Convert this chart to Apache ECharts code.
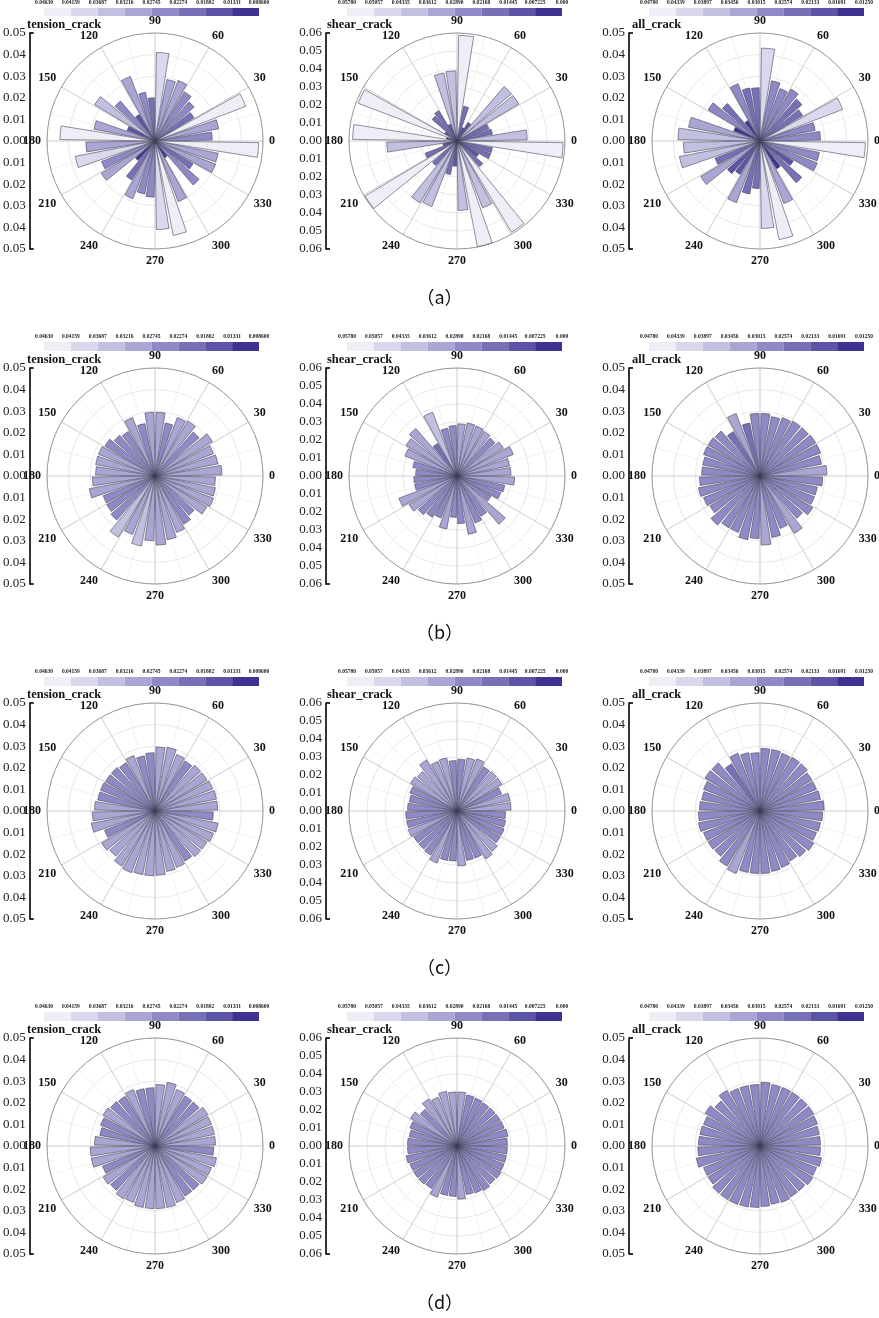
<!DOCTYPE html>
<html>
<head>
<meta charset="utf-8">
<script src="https://cdn.jsdelivr.net/npm/echarts@6/dist/echarts.min.js"></script>
<style>
  html, body { margin: 0; padding: 0; background: #fff; }
  #main { width: 879px; height: 1318px; }
</style>
</head>
<body>
<div id="main"></div>
<script>
// 36 orientation bins of 10 degrees, counter-clockwise from east
var sectors = ['0-10','10-20','20-30','30-40','40-50','50-60','60-70','70-80','80-90',
  '90-100','100-110','110-120','120-130','130-140','140-150','150-160','160-170','170-180',
  '180-190','190-200','200-210','210-220','220-230','230-240','240-250','250-260','260-270',
  '270-280','280-290','290-300','300-310','310-320','320-330','330-340','340-350','350-360'];

// colour legend levels (lightest -> darkest)
var tensionLevels = ['0.04630','0.04159','0.03687','0.03216','0.02745','0.02274','0.01802','0.01331','0.008600'];
var shearLevels = ['0.05780','0.05057','0.04335','0.03612','0.02890','0.02168','0.01445','0.007225','0.000'];
var allLevels = ['0.04780','0.04339','0.03897','0.03456','0.03015','0.02574','0.02133','0.01691','0.01250'];

var palette = ['#efeef7','#d9d8ec','#c2c0e0','#a9a6d3','#8f8ac5','#7670b6','#5c54a5','#3e3393'];

// (a)
var tension_a = [0.0265,0.030,0.045,0.021,0.024,0.0265,0.030,0.029,0.041,0.020,0.023,0.032,0.0143,0.0245,0.0326,0.0138,0.0288,0.044,
  0.032,0.0376,0.0265,0.029,0.012,0.021,0.0286,0.025,0.026,0.041,0.0445,0.030,0.009,0.027,0.0205,0.030,0.0297,0.048];
var shear_a = [0.039,0.020,0.019,0.040,0.040,0.012,0.008,0.0196,0.0587,0.039,0.0385,0.010,0.0196,0.0183,0.008,0.0587,0.006,0.058,
  0.039,0.008,0.019,0.0595,0.018,0.040,0.039,0.019,0.014,0.0386,0.0598,0.0397,0.059,0.019,0.014,0.020,0.020,0.059];
var all_a = [0.028,0.026,0.041,0.023,0.0257,0.028,0.026,0.0284,0.043,0.0247,0.025,0.0284,0.011,0.023,0.028,0.013,0.0337,0.038,
  0.0355,0.038,0.0223,0.032,0.020,0.018,0.0306,0.025,0.022,0.0405,0.0465,0.031,0.015,0.0256,0.018,0.0284,0.028,0.0488];
// (b)
var tension_b = [0.031,0.0296,0.029,0.031,0.027,0.0296,0.029,0.025,0.0295,0.0295,0.0247,0.029,0.024,0.025,0.027,0.028,0.028,0.0275,
  0.029,0.031,0.0257,0.026,0.027,0.033,0.029,0.033,0.030,0.032,0.030,0.028,0.026,0.024,0.028,0.029,0.0285,0.028];
var shear_b = [0.030,0.0297,0.0335,0.030,0.028,0.029,0.0297,0.030,0.029,0.028,0.027,0.038,0.021,0.035,0.033,0.031,0.025,0.023,
  0.024,0.024,0.0346,0.031,0.0285,0.0267,0.025,0.030,0.023,0.0265,0.033,0.028,0.026,0.0355,0.022,0.026,0.027,0.032];
var all_b = [0.031,0.029,0.030,0.030,0.0296,0.0296,0.029,0.028,0.029,0.029,0.025,0.031,0.024,0.0275,0.028,0.028,0.027,0.027,
  0.028,0.029,0.028,0.027,0.030,0.028,0.028,0.030,0.029,0.032,0.029,0.026,0.031,0.026,0.0285,0.027,0.027,0.029];
// (c)
var tension_c = [0.029,0.029,0.0286,0.028,0.028,0.027,0.028,0.030,0.0296,0.027,0.026,0.0275,0.026,0.0267,0.0267,0.027,0.027,0.028,
  0.029,0.030,0.025,0.0288,0.0277,0.0297,0.0306,0.030,0.030,0.0297,0.0285,0.028,0.027,0.028,0.028,0.029,0.0297,0.027];
var shear_c = [0.030,0.030,0.0265,0.029,0.029,0.0287,0.031,0.030,0.0288,0.028,0.030,0.0294,0.033,0.029,0.030,0.028,0.027,0.0275,
  0.0285,0.0285,0.029,0.028,0.028,0.0285,0.031,0.028,0.0278,0.0305,0.028,0.028,0.031,0.0296,0.028,0.028,0.0275,0.027];
var all_c = [0.0297,0.0285,0.028,0.028,0.029,0.029,0.0286,0.029,0.029,0.027,0.0275,0.0286,0.0255,0.0294,0.0296,0.028,0.0275,0.028,
  0.0285,0.029,0.028,0.028,0.0277,0.0297,0.031,0.029,0.029,0.029,0.0285,0.028,0.027,0.028,0.029,0.028,0.0285,0.029];
// (d)
var tension_d = [0.028,0.028,0.028,0.0285,0.027,0.027,0.028,0.030,0.0285,0.027,0.027,0.028,0.0268,0.0272,0.028,0.027,0.026,0.028,
  0.030,0.030,0.026,0.028,0.0272,0.0285,0.028,0.029,0.029,0.029,0.029,0.028,0.027,0.027,0.028,0.028,0.029,0.0272];
var shear_d = [0.028,0.0288,0.028,0.028,0.028,0.028,0.0285,0.0288,0.030,0.030,0.031,0.029,0.0305,0.027,0.030,0.028,0.027,0.0275,
  0.0275,0.0288,0.028,0.028,0.028,0.0275,0.0305,0.028,0.028,0.0295,0.0275,0.028,0.0288,0.028,0.0285,0.028,0.028,0.028];
var all_d = [0.028,0.028,0.0285,0.029,0.029,0.029,0.029,0.029,0.0295,0.0285,0.0285,0.0285,0.030,0.0275,0.0295,0.028,0.0283,0.0285,
  0.0288,0.030,0.028,0.028,0.029,0.029,0.029,0.0288,0.0285,0.028,0.0275,0.028,0.0275,0.0275,0.0285,0.028,0.029,0.028];

var captions = ['（a）', '（b）', '（c）', '（d）'];

var panels = [
  {name: 'tension_crack', data: tension_a, levels: tensionLevels, max: 0.05},
  {name: 'shear_crack', data: shear_a, levels: shearLevels, max: 0.06},
  {name: 'all_crack', data: all_a, levels: allLevels, max: 0.05},
  {name: 'tension_crack', data: tension_b, levels: tensionLevels, max: 0.05},
  {name: 'shear_crack', data: shear_b, levels: shearLevels, max: 0.06},
  {name: 'all_crack', data: all_b, levels: allLevels, max: 0.05},
  {name: 'tension_crack', data: tension_c, levels: tensionLevels, max: 0.05},
  {name: 'shear_crack', data: shear_c, levels: shearLevels, max: 0.06},
  {name: 'all_crack', data: all_c, levels: allLevels, max: 0.05},
  {name: 'tension_crack', data: tension_d, levels: tensionLevels, max: 0.05},
  {name: 'shear_crack', data: shear_d, levels: shearLevels, max: 0.06},
  {name: 'all_crack', data: all_d, levels: allLevels, max: 0.05}
];

var SERIF = "'Liberation Serif', 'Times New Roman', serif";
var R = 108;
var rowStep = 335;
var centerX = [155, 457, 760];
var axisX = [25, 326, 629];
var legendX = [44, 347, 649];
var titleX = [27, 327, 632];

function colorFor(v, levels) {
    for (var i = 0; i < 8; i++) {
        if (v >= parseFloat(levels[i + 1])) return palette[i];
    }
    return palette[7];
}

var option = {
    animation: false,
    backgroundColor: '#fff',
    title: [], polar: [], angleAxis: [], radiusAxis: [],
    grid: [], xAxis: [], yAxis: [], series: []
};

panels.forEach(function (p, k) {
    var row = Math.floor(k / 3), col = k % 3;
    var oy = row * rowStep;
    var cx = centerX[col], cy = 141 + oy;

    // background polar: circle, rings, spokes and angle labels
    var pg = option.polar.length;
    option.polar.push({center: [cx, cy], radius: R});
    option.angleAxis.push({
        polarIndex: pg, type: 'value', min: 0, max: 360, interval: 30,
        startAngle: 0, clockwise: false,
        axisLine: {lineStyle: {color: '#9a9a9a', width: 1}},
        axisTick: {show: false},
        axisLabel: {
            margin: 6, fontFamily: SERIF, fontWeight: 'bold', fontSize: 12, color: '#111',
            formatter: function (v) { return v === 360 ? '' : String(v); }
        },
        splitLine: {lineStyle: {color: '#cdcdcd', width: 1}},
        minorTick: {show: false, splitNumber: 2},
        minorSplitLine: {show: true, lineStyle: {color: '#eeeeee', width: 0.8}}
    });
    option.radiusAxis.push({
        polarIndex: pg, type: 'value', min: 0, max: p.max, interval: 0.01,
        axisLine: {show: false}, axisTick: {show: false}, axisLabel: {show: false},
        splitLine: {lineStyle: {color: '#e2e2e2', width: 0.8}}
    });

    // bar polar: 36 sectors
    var pb = option.polar.length;
    option.polar.push({center: [cx, cy], radius: R});
    option.angleAxis.push({
        polarIndex: pb, type: 'category', data: sectors, startAngle: 0, clockwise: false,
        boundaryGap: true,
        axisLine: {show: false}, axisTick: {show: false}, axisLabel: {show: false}, splitLine: {show: false}
    });
    option.radiusAxis.push({
        polarIndex: pb, type: 'value', min: 0, max: p.max,
        axisLine: {show: false}, axisTick: {show: false}, axisLabel: {show: false}, splitLine: {show: false}
    });
    option.series.push({
        type: 'bar', coordinateSystem: 'polar', polarIndex: pb,
        barCategoryGap: '18%',
        data: p.data.map(function (v) {
            return {value: v, itemStyle: {color: colorFor(v, p.levels)}};
        }),
        itemStyle: {borderColor: 'rgba(60,60,80,0.8)', borderWidth: 0.7},
        z: 3
    });

    // left ruler 0.05 ... 0.00 ... 0.05
    var g = option.grid.length;
    option.grid.push({left: axisX[col], top: cy - R, width: 10, height: 2 * R});
    option.xAxis.push({gridIndex: g, type: 'value', show: false});
    option.yAxis.push({
        gridIndex: g, type: 'value', min: -p.max, max: p.max, interval: 0.01, position: 'left',
        axisLine: {show: true, lineStyle: {color: '#000', width: 1.6}},
        axisTick: {show: true, inside: true, length: 4, customValues: [-p.max, p.max],
            lineStyle: {color: '#000', width: 1.6}},
        axisLabel: {
            margin: 4, fontFamily: SERIF, fontSize: 13, color: '#222',
            formatter: function (v) { return Math.abs(v).toFixed(2); }
        },
        splitLine: {show: false}
    });

    // colour legend strip
    var lg = option.grid.length;
    option.grid.push({left: legendX[col], top: 7 + oy, width: 215, height: 9});
    var xc = option.xAxis.length;
    option.xAxis.push({gridIndex: lg, type: 'category', data: palette.map(function (c, i) { return i; }), show: false});
    option.xAxis.push({
        gridIndex: lg, type: 'value', min: 0, max: 8, interval: 1, position: 'top',
        axisLine: {show: false}, axisTick: {show: false}, splitLine: {show: false},
        axisLabel: {
            margin: 2, fontFamily: SERIF, fontWeight: 'bold', fontSize: 5.5, color: '#222',
            formatter: function (v) { return p.levels[v]; }
        }
    });
    var yl = option.yAxis.length;
    option.yAxis.push({gridIndex: lg, type: 'value', min: 0, max: 1, show: false});
    option.series.push({
        type: 'bar', xAxisIndex: xc, yAxisIndex: yl, barCategoryGap: '0%', silent: true,
        data: palette.map(function (c) { return {value: 1, itemStyle: {color: c}}; })
    });

    // panel name
    option.title.push({
        text: p.name, left: titleX[col], top: 18 + oy, padding: 0,
        textStyle: {fontFamily: SERIF, fontWeight: 'bold', fontSize: 12.5, color: '#111'}
    });
});

captions.forEach(function (c, row) {
    option.title.push({
        text: c, left: 'center', top: 288 + row * rowStep, padding: 0,
        textStyle: {fontFamily: "'Noto Sans CJK SC', sans-serif", fontWeight: 'normal', fontSize: 18, color: '#111'}
    });
});

var chart = echarts.init(document.getElementById('main'));
chart.setOption(option);
</script>
</body>
</html>
